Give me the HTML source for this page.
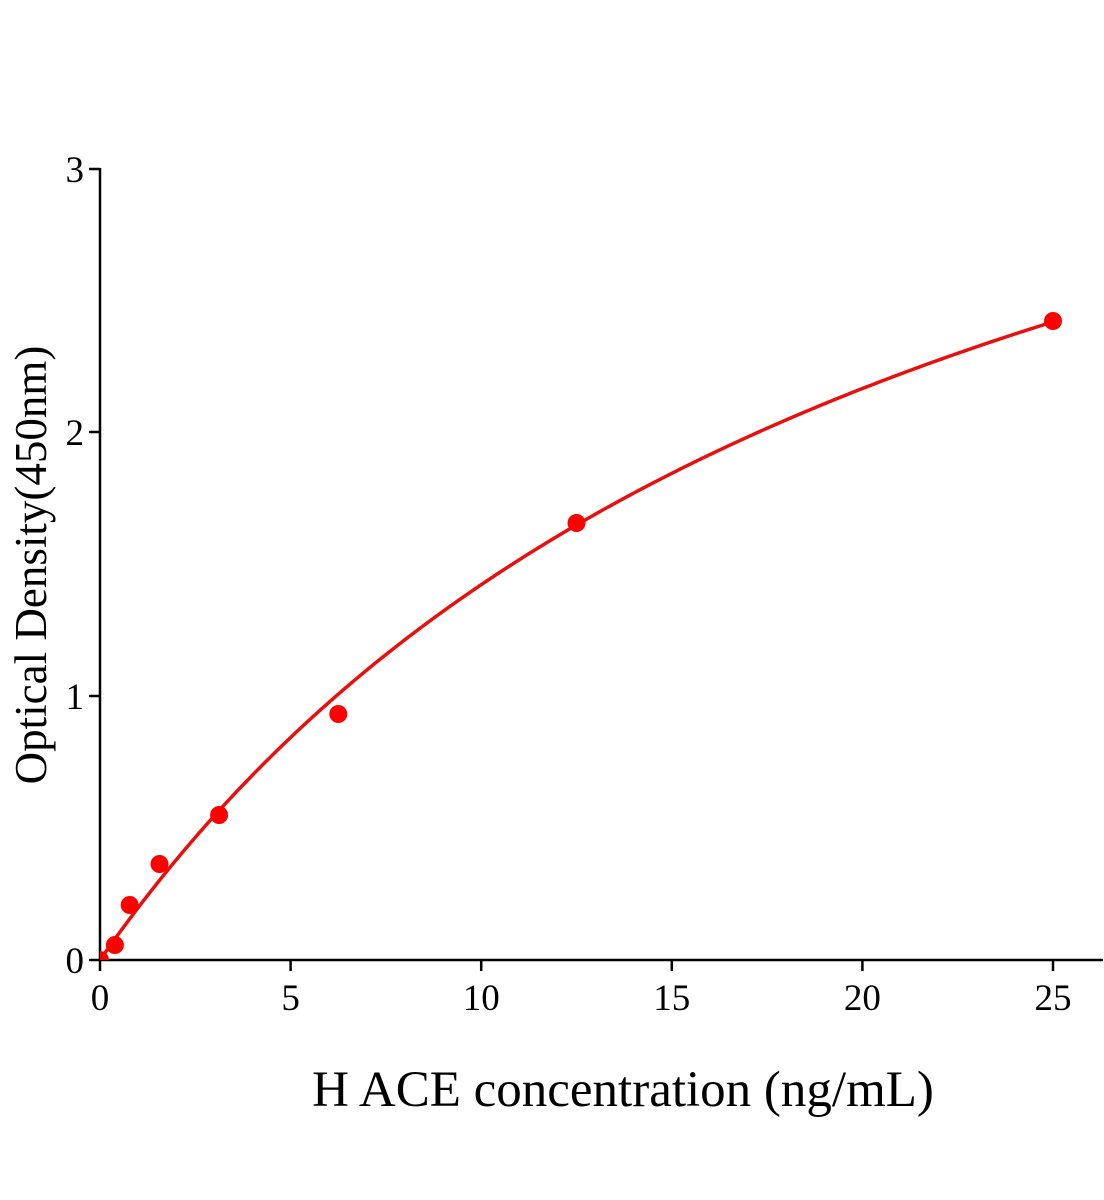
<!DOCTYPE html><html><head><style>body{margin:0;background:#fff}svg{display:block}text{font-family:"Liberation Serif",serif;fill:#000}</style></head><body>
<svg width="1104" height="1200" viewBox="0 0 1104 1200">
<defs><clipPath id="c"><rect x="100" y="100" width="1004" height="860"/></clipPath></defs>
<g stroke="#000" stroke-width="2.5" fill="none">
<line x1="100" y1="960" x2="1103" y2="960"/><line x1="100" y1="168" x2="100" y2="961"/>
<line x1="100" y1="960" x2="100" y2="971"/><line x1="290.6" y1="960" x2="290.6" y2="971"/><line x1="481.2" y1="960" x2="481.2" y2="971"/><line x1="671.8" y1="960" x2="671.8" y2="971"/><line x1="862.4" y1="960" x2="862.4" y2="971"/><line x1="1053" y1="960" x2="1053" y2="971"/>
<line x1="89" y1="960" x2="100" y2="960"/><line x1="89" y1="696" x2="100" y2="696"/><line x1="89" y1="432" x2="100" y2="432"/><line x1="89" y1="169" x2="100" y2="169"/>
</g>
<g font-size="37" text-anchor="middle">
<text x="100" y="1010">0</text><text x="290.6" y="1010">5</text><text x="481.2" y="1010">10</text><text x="671.8" y="1010">15</text><text x="862.4" y="1010">20</text><text x="1053" y="1010">25</text>
</g>
<g font-size="37" text-anchor="end">
<text x="84" y="973">0</text><text x="84" y="709">1</text><text x="84" y="445">2</text><text x="84" y="182">3</text>
</g>
<text x="623" y="1106" font-size="51" text-anchor="middle">H ACE concentration (ng/mL)</text>
<text transform="translate(46,565) rotate(-90)" font-size="45" text-anchor="middle">Optical Density(450nm)</text>
<g clip-path="url(#c)">
<path id="curve" fill="none" stroke="#e8100f" stroke-width="3.5"/>
<g fill="#f00">
<circle cx="100" cy="960" r="9"/><circle cx="114.9" cy="945" r="9"/><circle cx="129.7" cy="905" r="9"/><circle cx="159.5" cy="864" r="9"/><circle cx="219.1" cy="815" r="9"/><circle cx="338.3" cy="714" r="9"/><circle cx="576.5" cy="523" r="9"/><circle cx="1053" cy="321" r="9"/>
</g></g>
</svg>
<script>
var s="";
for(var i=0;i<=250;i++){var x=i/10,y=4.54*x/(21.9+x);
s+=(i?" L":"M")+(100+x*38.12).toFixed(2)+","+(960-y*263.7).toFixed(2);}
document.getElementById("curve").setAttribute("d",s);
</script>
</body></html>
